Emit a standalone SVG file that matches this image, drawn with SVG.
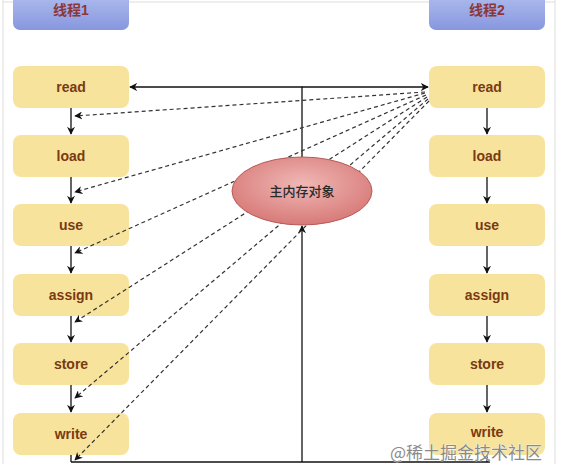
<svg xmlns="http://www.w3.org/2000/svg" width="566" height="472" viewBox="0 0 566 472">
<style>
.box{fill:#f7e39c;}
.lbl{font-family:"Liberation Sans",Arial,sans-serif;font-weight:bold;font-size:14px;fill:#7a3a12;text-anchor:middle;}
.hdr{font-family:"Liberation Sans","Noto Sans CJK SC",sans-serif;font-weight:bold;font-size:14px;fill:#8e3636;text-anchor:middle;}
.solid{stroke:#111;stroke-width:1.3;fill:none;}
.dash{stroke:#333;stroke-width:1.2;fill:none;stroke-dasharray:4 3;}
.border{stroke:#ddd;stroke-width:1;fill:none;}
</style>
<defs>
<linearGradient id="hg" x1="0" y1="0" x2="0" y2="1">
<stop offset="0" stop-color="#b6c2f0"/>
<stop offset="1" stop-color="#8797de"/>
</linearGradient>
<radialGradient id="eg" cx="0.5" cy="0.4" r="0.6">
<stop offset="0" stop-color="#f0b8b5"/>
<stop offset="1" stop-color="#d77a78"/>
</radialGradient>
<marker id="ah" viewBox="0 0 10 10" refX="9" refY="5" markerWidth="8" markerHeight="8" orient="auto" markerUnits="userSpaceOnUse">
<path d="M0,0 L10,5 L0,10 L3,5 z" fill="#111"/>
</marker>
</defs>
<rect width="566" height="472" fill="#fff"/>
<path class="border" d="M3,0 V464 M555,0 V464 M3,2 H555"/>

<g id="thread1"><rect x="13" y="-12" width="116" height="42" rx="7" fill="url(#hg)"/><text class="hdr" x="71" y="15">线程1</text></g>
<g id="thread2"><rect x="429" y="-12" width="116" height="42" rx="7" fill="url(#hg)"/><text class="hdr" x="487" y="15">线程2</text></g>

<g id="l-read"><rect class="box" x="13" y="66" width="116" height="42" rx="8"/><text class="lbl" x="71" y="92">read</text></g>
<g id="l-load"><rect class="box" x="13" y="135" width="116" height="42" rx="8"/><text class="lbl" x="71" y="161">load</text></g>
<g id="l-use"><rect class="box" x="13" y="204" width="116" height="42" rx="8"/><text class="lbl" x="71" y="230">use</text></g>
<g id="l-assign"><rect class="box" x="13" y="274" width="116" height="42" rx="8"/><text class="lbl" x="71" y="300">assign</text></g>
<g id="l-store"><rect class="box" x="13" y="343" width="116" height="42" rx="8"/><text class="lbl" x="71" y="369">store</text></g>
<g id="l-write"><rect class="box" x="13" y="413" width="116" height="42" rx="8"/><text class="lbl" x="71" y="439">write</text></g>

<g id="r-read"><rect class="box" x="429" y="66" width="116" height="42" rx="8"/><text class="lbl" x="487" y="92">read</text></g>
<g id="r-load"><rect class="box" x="429" y="135" width="116" height="42" rx="8"/><text class="lbl" x="487" y="161">load</text></g>
<g id="r-use"><rect class="box" x="429" y="204" width="116" height="42" rx="8"/><text class="lbl" x="487" y="230">use</text></g>
<g id="r-assign"><rect class="box" x="429" y="274" width="116" height="42" rx="8"/><text class="lbl" x="487" y="300">assign</text></g>
<g id="r-store"><rect class="box" x="429" y="343" width="116" height="42" rx="8"/><text class="lbl" x="487" y="369">store</text></g>
<g id="r-write"><rect class="box" x="429" y="413" width="116" height="42" rx="8"/><text class="lbl" x="487" y="437">write</text></g>

<g id="connectors">
<path class="solid" d="M71,108 V134" marker-end="url(#ah)"/>
<path class="solid" d="M71,177 V203" marker-end="url(#ah)"/>
<path class="solid" d="M71,246 V273" marker-end="url(#ah)"/>
<path class="solid" d="M71,316 V342" marker-end="url(#ah)"/>
<path class="solid" d="M71,385 V412" marker-end="url(#ah)"/>
<path class="solid" d="M71,455 V462"/>
<path class="solid" d="M487,108 V134" marker-end="url(#ah)"/>
<path class="solid" d="M487,177 V203" marker-end="url(#ah)"/>
<path class="solid" d="M487,246 V273" marker-end="url(#ah)"/>
<path class="solid" d="M487,316 V342" marker-end="url(#ah)"/>
<path class="solid" d="M487,385 V412" marker-end="url(#ah)"/>
<path class="solid" d="M487,455 V462"/>
<path class="solid" d="M302,160 V87 H130" marker-end="url(#ah)"/>
<path class="solid" d="M302,87 H428" marker-end="url(#ah)"/>
<path class="solid" d="M71,462 H490"/>
<path class="solid" d="M302,462 V226" marker-end="url(#ah)"/>
<path class="dash" d="M425,92 L75,116" marker-end="url(#ah)"/>
<path class="dash" d="M425,93 L75,192" marker-end="url(#ah)"/>
<path class="dash" d="M426,95 L75,253" marker-end="url(#ah)"/>
<path class="dash" d="M427,97 L75,322" marker-end="url(#ah)"/>
<path class="dash" d="M428,99 L75,398" marker-end="url(#ah)"/>
<path class="dash" d="M429,101 L75,460" marker-end="url(#ah)"/>
</g>

<g id="main-memory"><ellipse cx="302" cy="191" rx="70" ry="34" fill="url(#eg)" stroke="#b85a58" stroke-width="1"/><text x="302" y="196" font-family="'Noto Sans CJK SC',sans-serif" font-size="13" font-weight="500" fill="#2a2a2a" text-anchor="middle">主内存对象</text></g>

<text x="390" y="459" font-family="'Noto Sans CJK SC',sans-serif" font-size="17" fill="#8a8a8a" stroke="#fff" stroke-width="0.6" paint-order="stroke">@稀土掘金技术社区</text>
</svg>
